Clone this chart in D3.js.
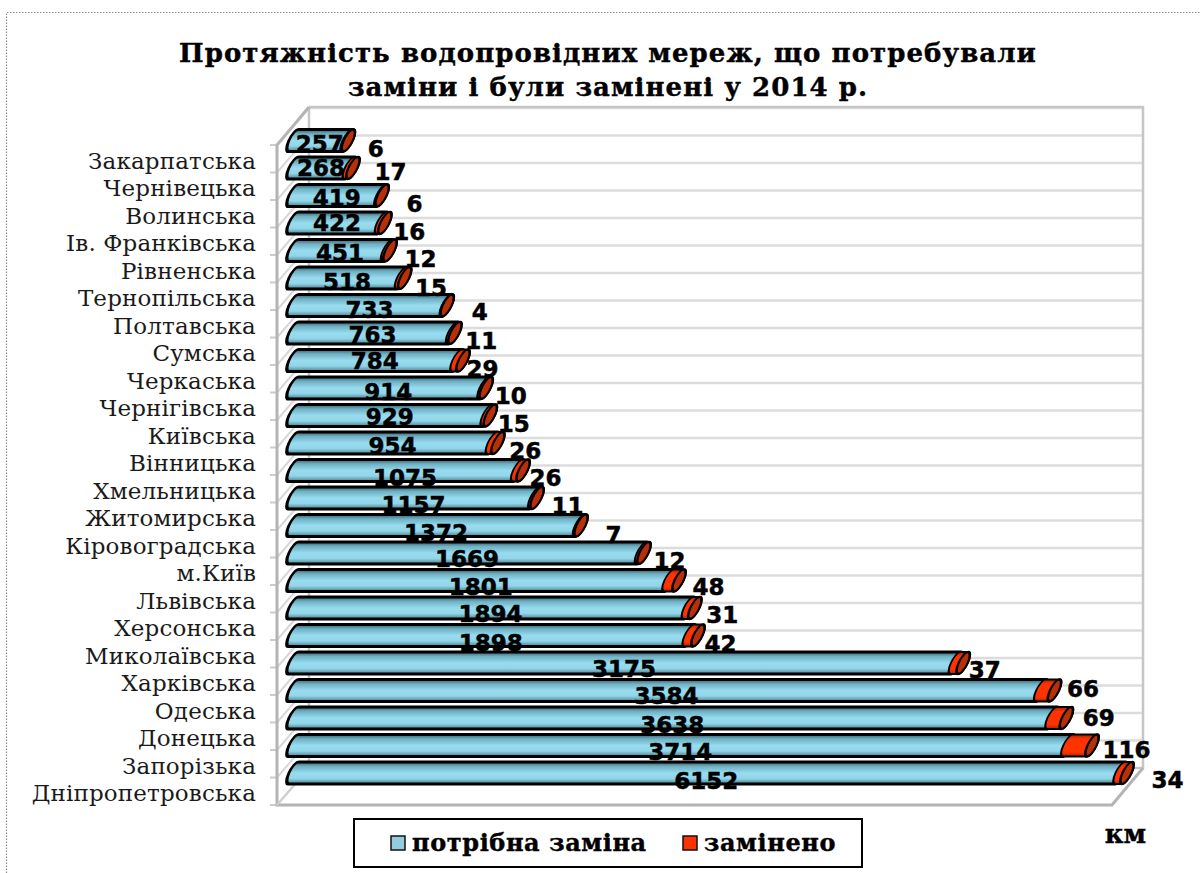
<!DOCTYPE html>
<html><head><meta charset="utf-8">
<script src="https://cdn.jsdelivr.net/npm/d3@7/dist/d3.min.js"></script>
<style>html,body{margin:0;padding:0;background:#fff}svg{display:block}</style></head>
<body><svg id="c" width="1200" height="873"></svg>
<script>
const regions = ["Закарпатська","Чернівецька","Волинська","Ів. Франківська","Рівненська","Тернопільська","Полтавська","Сумська","Черкаська","Чернігівська","Київська","Вінницька","Хмельницька","Житомирська","Кіровоградська","м.Київ","Львівська","Херсонська","Миколаївська","Харківська","Одеська","Донецька","Запорізька","Дніпропетровська"];
const needed = [257,268,419,422,451,518,733,763,784,914,929,954,1075,1157,1372,1669,1801,1894,1898,3175,3584,3638,3714,6152];
const replaced = [6,17,6,16,12,15,4,11,29,10,15,26,26,11,7,12,48,31,42,37,66,69,116,34];
const seriesNames = ["потрібна заміна","замінено"];
const titleLines = ["Протяжність водопровідних мереж, що потребували","заміни і були замінені у 2014 р."];
const unitLabel = "км";
// hand-placed label nudges of the original chart
const neededLabelDy = [3.5,0,2.5,0,2.5,4,4.5,2,0,4,1.5,3,7.5,7,7.5,6,6.5,6,7.5,6,5.5,7,6.5,8];
const replacedLabelDx = [26,36,31,23,29,25,31,25,18,23,22,26,21,29,31,24,28,26,21,20,27,31,33,39];
const replacedLabelDy = [8.5,4,8.5,9,8.5,10,6.5,8,8.5,8,8.5,8,7.5,8,9.5,8,6.5,7,8.5,7,-1.5,0,4.5,7];

const svg = d3.select("#c");
const frontTop = 145, frontBottom = 805, frontLeft = 277, frontRight = 1112;
const backTop = 107, backBottom = 768, backLeft = 309, backRight = 1143;
const dy = frontBottom - backBottom, dx = backLeft - frontLeft;

// the original axis is broken: the longest bar is drawn shorter than its value
const x = d3.scaleLinear().domain([0,3830,6152,6186]).range([293.5,1092,1120,1127]);
const yFront = d3.scaleBand().domain(regions).range([frontTop, frontBottom]);
const cy = r => yFront(r) + yFront.bandwidth()/2 - 18.2;

const defs = svg.append("defs");
function grad(id, stops){
  const g = defs.append("linearGradient").attr("id",id).attr("x1",0).attr("x2",0).attr("y1",0).attr("y2",1);
  stops.forEach(([o,c])=>g.append("stop").attr("offset",o).attr("stop-color",c));
}
grad("blue",[[0,"#33606e"],[.2,"#6fb0c3"],[.5,"#98dcef"],[.75,"#92d5e8"],[.92,"#5f98a9"],[1,"#33606e"]]);
grad("red",[[0,"#a82400"],[.2,"#ff3300"],[.8,"#ff3300"],[1,"#a82400"]]);

// dotted outer frame
const frame = svg.append("g").attr("fill","none").attr("stroke","#8c8c8c").attr("stroke-width",1.2).attr("stroke-dasharray","1.5 1.5");
frame.append("path").attr("d","M6.5,873V12.5H1200");

// walls
const wall = svg.append("g").attr("fill","none");
const gridYs = d3.range(regions.length).map(i => yFront(regions[i]));
wall.selectAll("line.grid").data(gridYs).join("line").attr("class","grid")
  .attr("x1",backLeft).attr("x2",backRight)
  .attr("y1",d=>d-dy).attr("y2",d=>d-dy)
  .attr("stroke","#dcdcdc").attr("stroke-width",2.5);
wall.selectAll("line.diag").data(gridYs.concat([frontBottom])).join("line").attr("class","diag")
  .attr("x1",frontLeft).attr("x2",backLeft)
  .attr("y1",d=>d).attr("y2",d=>d-dy)
  .attr("stroke","#d8d8d8").attr("stroke-width",2);
wall.selectAll("line.tick").data(gridYs.concat([frontBottom])).join("line").attr("class","tick")
  .attr("x1",frontLeft-7).attr("x2",frontLeft)
  .attr("y1",d=>d).attr("y2",d=>d)
  .attr("stroke","#cccccc").attr("stroke-width",2);
wall.append("path").attr("stroke","#c6c6c6").attr("stroke-width",2.5)
  .attr("d",`M${backLeft},${backTop}V${backBottom}M${backLeft},${backTop}H${backRight}V${backBottom}H${backLeft}`);
wall.append("path").attr("stroke","#b4b4b4").attr("stroke-width",3)
  .attr("d",`M${backLeft},${backTop}L${frontLeft},${frontTop}V${frontBottom}H${frontRight}L${backRight},${backBottom}`);
wall.append("line").attr("x1",backLeft).attr("y1",backBottom).attr("x2",frontLeft).attr("y2",frontBottom).attr("stroke","#cfcfcf").attr("stroke-width",2);

// cylinders
const h = 11, rx = 4.6, slant = -24;
const tube = (a,b) => `M${a},${-h}L${b},${-h}A${rx},${h} 0 0 1 ${b},${h}L${a},${h}A${rx},${h} 0 0 1 ${a},${-h}Z`;
const rows = regions.map((r,i)=>({r,i,n:needed[i],k:replaced[i]}));
const bars = svg.append("g").selectAll("g").data(rows).join("g")
  .attr("transform",d=>`translate(0,${cy(d.r)}) skewX(${slant})`)
  .attr("stroke","#000").attr("stroke-width",3).attr("stroke-linejoin","round");
bars.append("path").attr("d",d=>tube(x(0),x(d.n))).attr("fill","url(#blue)");
bars.append("path").attr("d",d=>tube(x(d.n),x(d.n+d.k))).attr("fill","url(#red)").attr("stroke-width",2);
bars.append("ellipse").attr("cx",d=>x(d.n+d.k)).attr("cy",0).attr("rx",rx).attr("ry",h).attr("fill","#b93008").attr("stroke-width",2.4);

// value labels
const lab = svg.append("g").attr("font-family","'DejaVu Sans'").attr("font-weight","bold").attr("font-size",23).attr("fill","#000").attr("stroke","#000").attr("stroke-width",0.5).attr("text-anchor","middle").attr("dominant-baseline","central");
lab.selectAll("text.n").data(rows).join("text").attr("class","n")
  .attr("x",d=>(x(0)+x(d.n))/2-0.5).attr("y",d=>cy(d.r)+neededLabelDy[d.i]).text(d=>d.n);
lab.selectAll("text.k").data(rows).join("text").attr("class","k")
  .attr("x",d=>x(d.n+d.k)+replacedLabelDx[d.i]+1.5).attr("y",d=>cy(d.r)+replacedLabelDy[d.i]).text(d=>d.k);

// category labels
const serif = "'DejaVu Serif'";
svg.append("g").selectAll("text").data(regions).join("text")
  .attr("x",256).attr("y",r=>yFront(r)+yFront.bandwidth()/2+2)
  .attr("dominant-baseline","central").attr("text-anchor","end")
  .attr("font-family",serif).attr("font-size",23).attr("letter-spacing",0.15).attr("fill","#1a1a1a").text(r=>r);

// title
svg.append("g").selectAll("text").data(titleLines).join("text")
  .attr("x",608).attr("y",(d,i)=>62+i*34).attr("text-anchor","middle")
  .attr("font-family",serif).attr("font-weight","bold").attr("font-size",26).attr("letter-spacing",1.05).attr("fill","#000").attr("stroke","#000").attr("stroke-width",0.4).text(d=>d);

// legend
const lg = svg.append("g");
lg.append("rect").attr("x",354).attr("y",819).attr("width",508).attr("height",48).attr("fill","#fff").attr("stroke","#000").attr("stroke-width",2);
const legendX = d3.scaleOrdinal().domain(seriesNames).range([391,683]);
const legendFill = d3.scaleOrdinal().domain(seriesNames).range(["#93cddd","#ff3300"]);
const item = lg.selectAll("g").data(seriesNames).join("g").attr("transform",d=>`translate(${legendX(d)},0)`);
item.append("rect").attr("x",0).attr("y",836).attr("width",14).attr("height",14).attr("fill",legendFill).attr("stroke","#111").attr("stroke-width",1.5);
item.append("text").attr("x",21).attr("y",851).attr("font-family",serif).attr("font-weight","bold").attr("font-size",24).attr("letter-spacing",0.6).attr("stroke","#000").attr("stroke-width",0.4).attr("fill","#000").text(d=>d);

svg.append("text").attr("x",1125.5).attr("y",843).attr("text-anchor","middle").attr("font-family",serif).attr("font-weight","bold").attr("font-size",26).attr("stroke","#000").attr("stroke-width",0.4).text(unitLabel);
</script></body></html>
